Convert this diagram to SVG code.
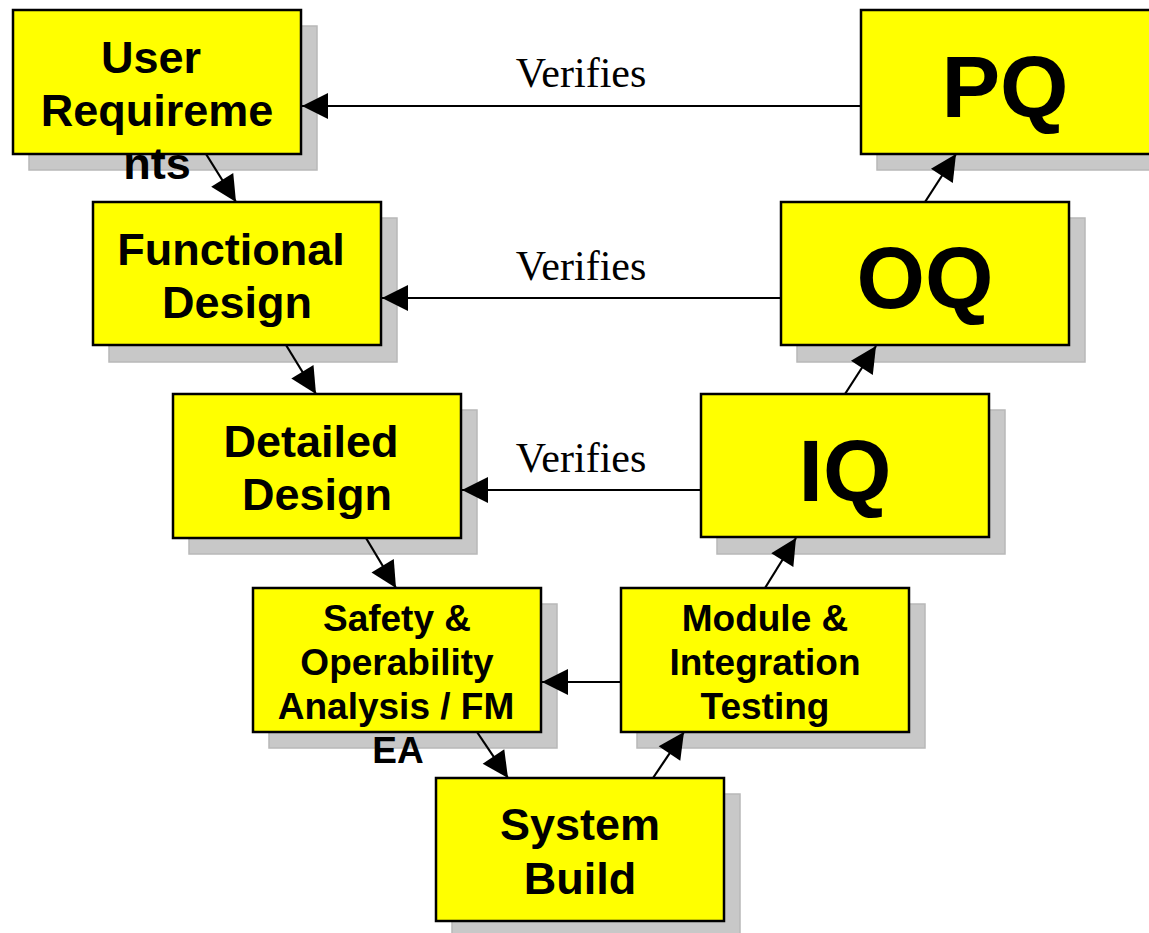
<svg xmlns="http://www.w3.org/2000/svg" width="1149" height="933" viewBox="0 0 1149 933">
  <style>
    .shadow { fill: #c8c8c8; stroke: #b8b8b8; stroke-width: 1.5; }
    .box { fill: #ffff00; stroke: #000; stroke-width: 2.5; }
    .lbl { font-family: "Liberation Sans", Arial, sans-serif; font-weight: bold; font-size: 45px; fill: #000; text-anchor: middle; }
    .sm { font-size: 37px; }
    .big { font-size: 88px; }
    .verb { font-family: "Liberation Serif", "Times New Roman", serif; font-size: 42px; fill: #000; text-anchor: middle; }
    .conn { stroke: #000; stroke-width: 2.2; fill: none; marker-end: url(#head); }
  </style>
  <defs>
    <marker id="head" markerUnits="userSpaceOnUse" markerWidth="26" markerHeight="26" refX="26" refY="13" orient="auto" overflow="visible">
      <path d="M0,0 L26,13 L0,26 z" fill="#000"/>
    </marker>
  </defs>
  <rect width="1149" height="933" fill="#fff"/>

  <g id="user-requirements">
    <rect class="shadow" x="29" y="26" width="288" height="144"/>
    <rect class="box" x="13" y="10" width="288" height="144"/>
    <text class="lbl" x="151" y="73">User</text>
    <text class="lbl" x="157" y="126">Requireme</text>
    <text class="lbl" x="157" y="179">nts</text>
  </g>

  <g id="functional-design">
    <rect class="shadow" x="109" y="218" width="288" height="144"/>
    <rect class="box" x="93" y="202" width="288" height="143"/>
    <text class="lbl" x="231" y="265">Functional</text>
    <text class="lbl" x="237" y="318">Design</text>
  </g>

  <g id="detailed-design">
    <rect class="shadow" x="189" y="410" width="288" height="144"/>
    <rect class="box" x="173" y="394" width="288" height="144"/>
    <text class="lbl" x="311" y="457">Detailed</text>
    <text class="lbl" x="317" y="510">Design</text>
  </g>

  <g id="safety-analysis">
    <rect class="shadow" x="269" y="604" width="288" height="144"/>
    <rect class="box" x="253" y="588" width="288" height="144"/>
    <text class="lbl sm" x="397" y="631">Safety &amp;</text>
    <text class="lbl sm" x="397" y="675">Operability</text>
    <text class="lbl sm" x="396" y="719">Analysis / FM</text>
    <text class="lbl sm" x="398" y="763">EA</text>
  </g>

  <g id="system-build">
    <rect class="shadow" x="452" y="794" width="288" height="144"/>
    <rect class="box" x="436" y="778" width="288" height="143"/>
    <text class="lbl" x="580" y="840">System</text>
    <text class="lbl" x="580" y="894">Build</text>
  </g>

  <g id="module-integration-testing">
    <rect class="shadow" x="637" y="604" width="288" height="144"/>
    <rect class="box" x="621" y="588" width="288" height="144"/>
    <text class="lbl sm" x="765" y="631">Module &amp;</text>
    <text class="lbl sm" x="765" y="675">Integration</text>
    <text class="lbl sm" x="765" y="719">Testing</text>
  </g>

  <g id="iq">
    <rect class="shadow" x="717" y="410" width="288" height="144"/>
    <rect class="box" x="701" y="394" width="288" height="143"/>
    <text class="lbl big" x="845" y="501">IQ</text>
  </g>

  <g id="oq">
    <rect class="shadow" x="797" y="218" width="288" height="144"/>
    <rect class="box" x="781" y="202" width="288" height="143"/>
    <text class="lbl big" x="925" y="308">OQ</text>
  </g>

  <g id="pq">
    <rect class="shadow" x="877" y="26" width="288" height="144"/>
    <rect class="box" x="861" y="10" width="300" height="144"/>
    <text class="lbl big" x="1005" y="117">PQ</text>
  </g>

  <g id="connectors">
    <!-- descending branch -->
    <line class="conn" x1="206" y1="154" x2="236" y2="202"/>
    <line class="conn" x1="286" y1="345" x2="316" y2="394"/>
    <line class="conn" x1="366" y1="538" x2="396" y2="588"/>
    <line class="conn" x1="477" y1="732" x2="508" y2="778"/>
    <!-- ascending branch -->
    <line class="conn" x1="653" y1="778" x2="684" y2="732"/>
    <line class="conn" x1="765" y1="588" x2="796" y2="538"/>
    <line class="conn" x1="845" y1="394" x2="876" y2="346"/>
    <line class="conn" x1="925" y1="202" x2="956" y2="154"/>
    <!-- verification links -->
    <line class="conn" x1="621" y1="682" x2="542" y2="682"/>
    <line class="conn" x1="701" y1="490" x2="462" y2="490"/>
    <line class="conn" x1="781" y1="298" x2="382" y2="298"/>
    <line class="conn" x1="861" y1="106" x2="302" y2="106"/>
    <text class="verb" x="581" y="87">Verifies</text>
    <text class="verb" x="581" y="280">Verifies</text>
    <text class="verb" x="581" y="472">Verifies</text>
  </g>
</svg>
